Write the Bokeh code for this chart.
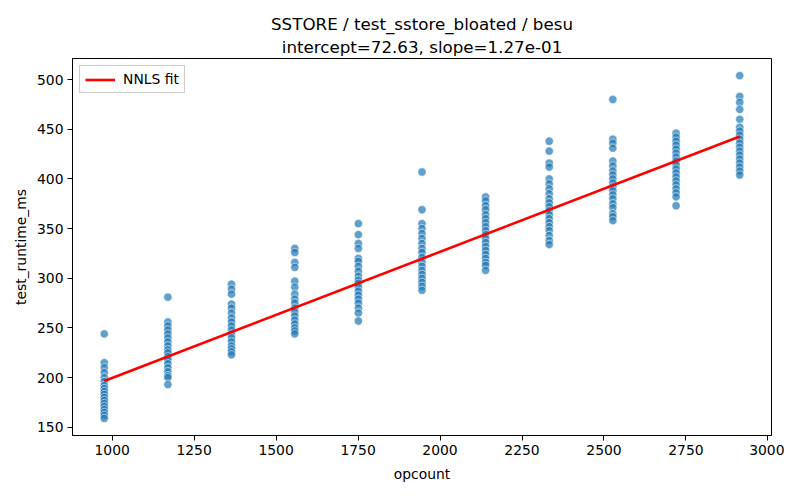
from bokeh.plotting import figure
from bokeh.models import Range1d, FixedTicker, Title, Legend, LegendItem, ColumnDataSource
from bokeh.embed import file_html
from bokeh.resources import INLINE
import numpy as np

title_line1 = "SSTORE / test_sstore_bloated / besu"
title_line2 = "intercept=72.63, slope=1.27e-01"
x_label = "opcount"
y_label = "test_runtime_ms"
intercept = 72.63
slope = 0.127

opcounts = [976, 1170, 1364, 1557, 1751, 1945, 2139, 2333, 2527, 2720, 2914]
runtimes = [
    [244, 215, 210, 205, 200, 196, 192, 189, 186, 183, 180, 177, 174, 171, 168, 165, 162, 159],
    [281, 256, 252, 248, 244, 240, 236, 232, 228, 225, 221, 218, 214, 210, 206, 202, 200, 193],
    [294, 289, 284, 274, 270, 265, 260, 256, 252, 248, 244, 240, 236, 232, 229, 226, 223],
    [330, 326, 316, 311, 297, 291, 284, 279, 275, 270, 266, 262, 258, 254, 250, 247, 244],
    [355, 344, 335, 330, 320, 317, 312, 307, 302, 298, 295, 291, 287, 283, 279, 275, 270, 265, 257],
    [407, 369, 355, 350, 345, 340, 335, 330, 326, 321, 316, 312, 308, 304, 300, 296, 292, 288],
    [382, 378, 373, 369, 364, 360, 356, 352, 348, 344, 340, 336, 332, 328, 324, 320, 316, 313, 308],
    [438, 428, 416, 412, 400, 395, 390, 385, 380, 376, 372, 368, 364, 360, 356, 352, 348, 343, 338, 334],
    [480, 440, 436, 431, 418, 413, 408, 404, 400, 396, 392, 388, 384, 380, 375, 371, 365, 362, 358],
    [446, 442, 438, 434, 430, 426, 422, 418, 414, 410, 406, 402, 398, 394, 390, 386, 382, 373],
    [504, 483, 477, 470, 460, 452, 448, 444, 440, 436, 432, 428, 424, 420, 416, 412, 408, 404],
]
x_ticks = [1000, 1250, 1500, 1750, 2000, 2250, 2500, 2750, 3000]
y_ticks = [150, 200, 250, 300, 350, 400, 450, 500]

xs, ys = [], []
for oc, vals in zip(opcounts, runtimes):
    for v in vals:
        xs.append(oc)
        ys.append(v)
xs = np.array(xs, dtype=float)
ys = np.array(ys, dtype=float)

xpad = (xs.max() - xs.min()) * 0.05
ypad = (ys.max() - ys.min()) * 0.05

FONT = "DejaVu Sans"

p = figure(width=784, height=484, output_backend="svg", toolbar_location=None,
           x_range=Range1d(xs.min() - xpad, xs.max() + xpad),
           y_range=Range1d(ys.min() - ypad, ys.max() + ypad),
           min_border_left=72, min_border_right=13, min_border_top=58, min_border_bottom=42,
           background_fill_color="white", border_fill_color="white")
p.title.visible = False

t2 = Title(text=title_line2, align="center", text_font=FONT, text_font_size="16.7px",
           text_font_style="normal", text_color="black", standoff=4)
t1 = Title(text=title_line1, align="center", text_font=FONT, text_font_size="16.7px",
           text_font_style="normal", text_color="black", standoff=-3)
p.add_layout(t2, "above")
p.add_layout(t1, "above")

p.xgrid.visible = False
p.ygrid.visible = False
p.outline_line_color = "black"
p.outline_line_alpha = 1.0
p.outline_line_width = 1

for ax in (p.xaxis[0], p.yaxis[0]):
    ax.axis_line_color = "black"
    ax.major_tick_line_color = "black"
    ax.major_tick_out = 5
    ax.major_tick_in = 0
    ax.minor_tick_line_color = None
    ax.major_label_text_font = FONT
    ax.major_label_text_font_size = "13.9px"
    ax.major_label_text_color = "black"
    ax.axis_label_text_font = FONT
    ax.axis_label_text_font_size = "13.9px"
    ax.axis_label_text_font_style = "normal"
    ax.axis_label_text_color = "black"

p.xaxis.ticker = FixedTicker(ticks=x_ticks)
p.yaxis.ticker = FixedTicker(ticks=y_ticks)
p.xaxis.axis_label = x_label
p.yaxis.axis_label = y_label
p.xaxis.major_label_standoff = 4
p.yaxis.major_label_standoff = 4
p.xaxis.axis_label_standoff = 8
p.yaxis.axis_label_standoff = 5

src = ColumnDataSource(dict(x=xs, y=ys))
p.scatter("x", "y", source=src, size=8.3, fill_color="#1f77b4", fill_alpha=0.7,
          line_color="white", line_width=0.75, line_alpha=0.7)

fit_x = np.array([xs.min(), xs.max()])
fit_y = intercept + slope * fit_x
r_fit = p.line(fit_x, fit_y, line_color="red", line_width=2.6)

legend = Legend(items=[LegendItem(label="NNLS fit", renderers=[r_fit])],
                location="top_left", label_text_font=FONT, label_text_font_size="13.9px",
                label_text_color="black",
                border_line_color="#cccccc", border_line_alpha=1.0,
                background_fill_alpha=0.8, glyph_width=30, glyph_height=15,
                label_standoff=8, padding=5, margin=7, spacing=0, label_height=15)
p.add_layout(legend)

open("out.html", "w").write(file_html(p, INLINE))
